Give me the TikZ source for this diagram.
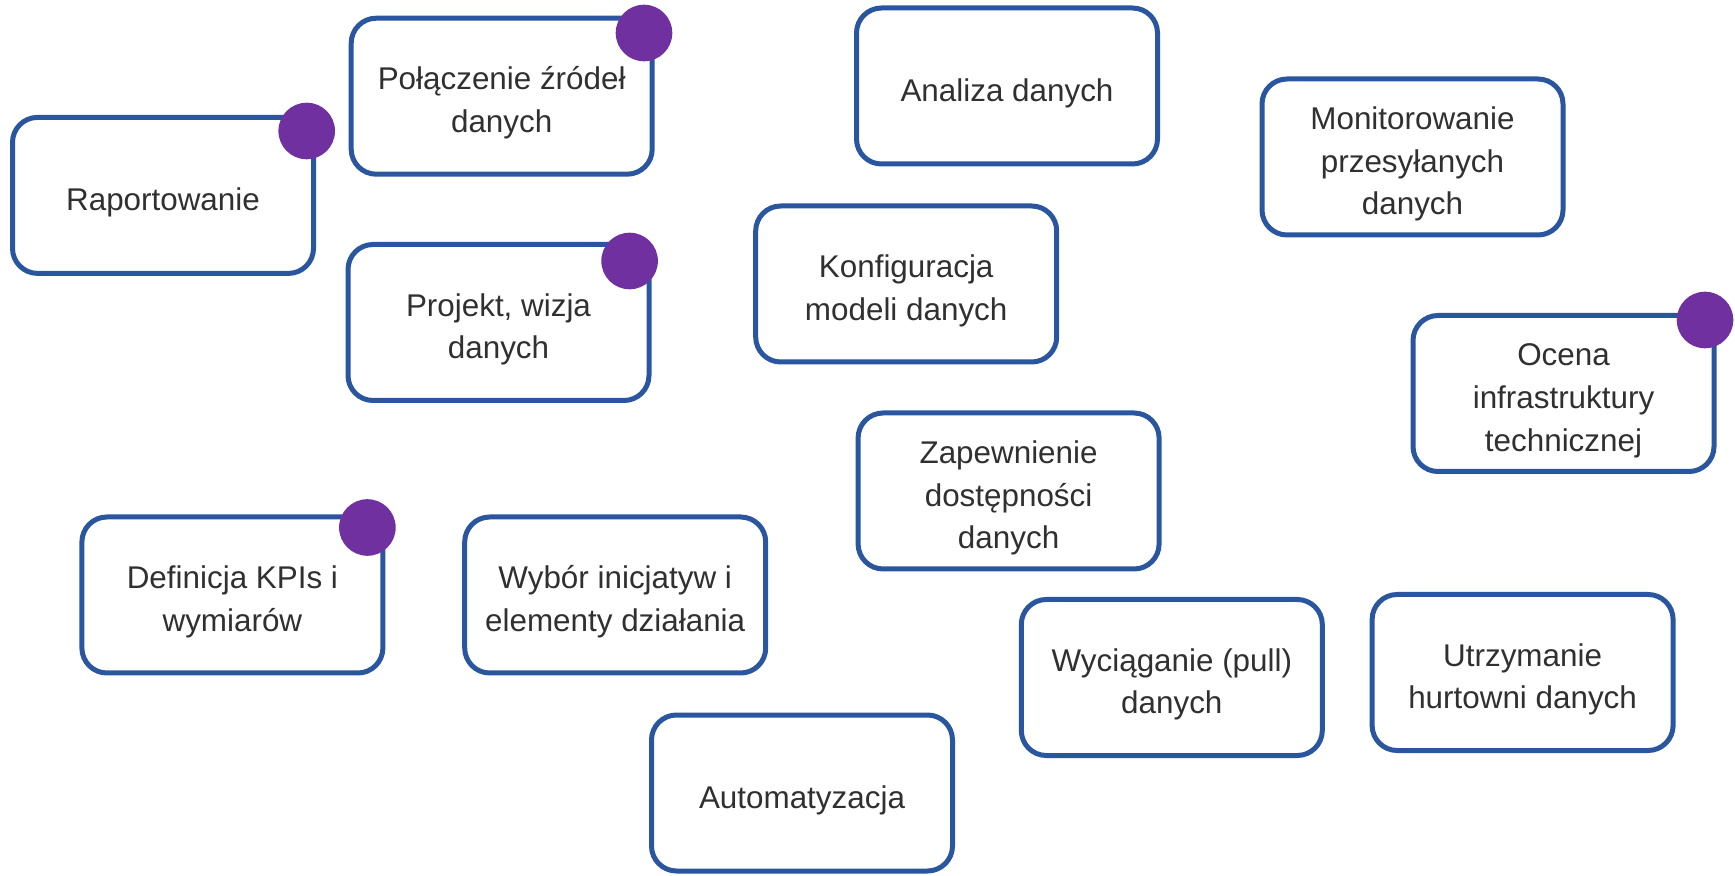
\documentclass[tikz,border=0pt]{standalone}
\usepackage{fontspec}
\newfontfamily\cardfont{Liberation Sans}
\definecolor{cardblue}{HTML}{2A56A0}
\definecolor{dotpurple}{HTML}{7030A0}
\definecolor{cardtext}{HTML}{303030}
% fixed struts keep the baselines independent of accents and descenders
\newcommand\cardtop{\rule{0pt}{18.5pt}}
\newcommand\cardbot{\rule[-3.4pt]{0pt}{3.4pt}}
\tikzset{
  card/.style={draw=cardblue, line width=2.5pt, rounded corners=12.5pt, fill=white,
    minimum width=150.5pt, minimum height=78pt, align=center, inner sep=0pt,
    text=cardtext, font=\cardfont\fontsize{15.7}{21.3}\selectfont},
  marker/.style={circle, fill=dotpurple, draw=none, minimum size=28.3pt, inner sep=0pt}
}
\begin{document}
\begin{tikzpicture}[x=0.5pt, y=-0.5pt]
  \useasboundingbox (0,0) rectangle (1735,876);
  \begin{scope}
    \clip (0,0) rectangle (1735,876);
    % cards
    \node[card] (rap) at (163,195.4) {\cardtop Raportowanie\cardbot};
    \node[card] (pol) at (501.7,96.2) {\cardtop Połączenie źródeł\\danych\cardbot};
    \node[card] (proj) at (498.5,322.5) {\cardtop Projekt, wizja\\danych\cardbot};
    \node[card] (anal) at (1007,86) {\cardtop Analiza danych\cardbot};
    \node[card] (konf) at (906.2,284) {\cardtop Konfiguracja\\modeli danych\cardbot};
    \node[card] (mon) at (1412.5,157) {\cardtop Monitorowanie\\przesyłanych\\danych\cardbot};
    \node[card] (ocena) at (1563.5,393.5) {\cardtop Ocena\\infrastruktury\\technicznej\cardbot};
    \node[card] (zap) at (1008.6,491) {\cardtop Zapewnienie\\dostępności\\danych\cardbot};
    \node[card] (kpi) at (232.4,595) {\cardtop Definicja KPIs i\\wymiarów\cardbot};
    \node[card] (wyb) at (615.2,595) {\cardtop Wybór inicjatyw i\\elementy działania\cardbot};
    \node[card] (pull) at (1171.8,677.5) {\cardtop Wyciąganie (pull)\\danych\cardbot};
    \node[card] (hurt) at (1522.6,672.5) {\cardtop Utrzymanie\\hurtowni danych\cardbot};
    \node[card] (auto) at (802,793) {\cardtop Automatyzacja\cardbot};
    % corner markers
    \node[marker] (mrap) at (306.7,131) {};
    \node[marker] (mpol) at (644,33) {};
    \node[marker] (mproj) at (629.6,261) {};
    \node[marker] (mocena) at (1705,320) {};
    \node[marker] (mkpi) at (367.4,527.5) {};
  \end{scope}
\end{tikzpicture}
\end{document}
